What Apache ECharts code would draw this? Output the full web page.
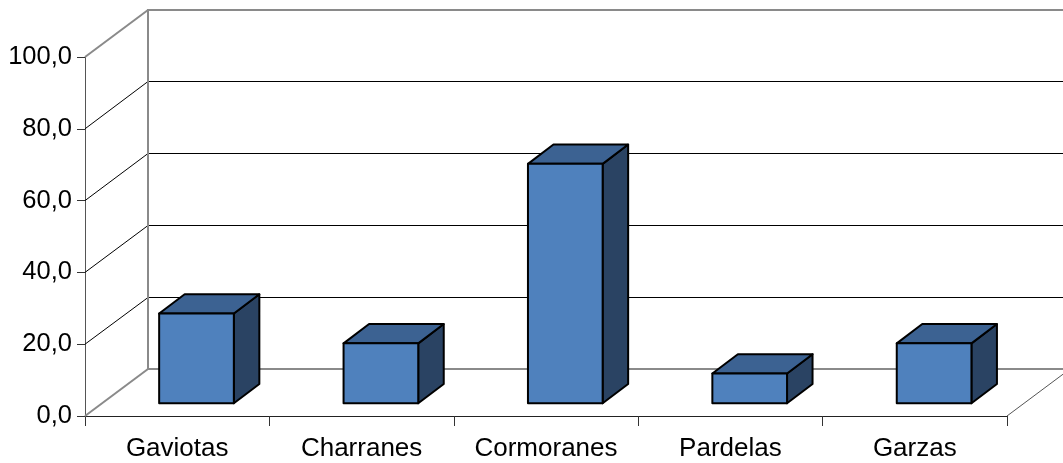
<!DOCTYPE html>
<html>
<head>
<meta charset="utf-8">
<script src="https://cdn.jsdelivr.net/npm/echarts@6/dist/echarts.min.js"></script>
<style>
  html, body { margin: 0; padding: 0; background: #ffffff; }
  #chart { width: 1063px; height: 463px; }
</style>
</head>
<body>
<div id="chart"></div>
<script>
// Bird groups and their percentage values
const categories = ['Gaviotas', 'Charranes', 'Cormoranes', 'Pardelas', 'Garzas'];
const values = [25.0, 16.7, 66.7, 8.3, 16.7];
const yTicks = [0, 20, 40, 60, 80, 100];

// Perspective offsets (pixels) used to fake the 3D box
const DEPTH = [63, -47];         // full depth of the floor / walls
const BAR_FRONT = [19.3, -12.7]; // front face of the bars relative to the category centre
const BAR_DEPTH = [25.5, -19.3]; // depth of each bar
const BAR_WIDTH_RATIO = 0.405;

const FACE = '#4F81BD';
const TOP = '#3C6292';
const SIDE = '#2A4363';

const chart = echarts.init(document.getElementById('chart'), null, { renderer: 'canvas' });

// Snap to the pixel grid so thin lines stay crisp
function snap(v, width) {
  return width % 2 === 1 ? Math.round(v - 0.5) + 0.5 : Math.round(v);
}

function line(x1, y1, x2, y2, color, width) {
  return {
    type: 'line',
    shape: { x1: x1, y1: y1, x2: x2, y2: y2 },
    style: { stroke: color, lineWidth: width }
  };
}

// Walls, floor and gridlines of the 3D frame
function renderFrame(params, api) {
  const cs = params.coordSys;
  const x0 = cs.x, x1 = cs.x + cs.width;
  const children = [];
  yTicks.forEach(function (v) {
    const y = api.coord([0, v])[1];
    const edge = (v === yTicks[0] || v === yTicks[yTicks.length - 1]);
    const color = edge ? '#8a8a8a' : '#000000';
    const w = edge ? 2 : 1;
    const yBack = snap(y + DEPTH[1], w);
    const xBack = snap(x0 + DEPTH[0], 2);
    children.push(line(x0, y, xBack, yBack, color, w));
    children.push(line(xBack, yBack, x1 + DEPTH[0] + 20, yBack, color, w));
  });
  const yb = api.coord([0, yTicks[0]])[1];
  const yt = api.coord([0, yTicks[yTicks.length - 1]])[1];
  const xBack = snap(x0 + DEPTH[0], 2);
  children.push(line(xBack, snap(yb + DEPTH[1], 2), xBack, snap(yt + DEPTH[1], 2) - 1, '#8a8a8a', 2));
  children.push(line(x1, yb, x1 + DEPTH[0], yb + DEPTH[1], '#555555', 1));
  return { type: 'group', children: children };
}

// One 3D bar: front face, top face and right side
function renderBar(params, api) {
  const idx = api.value(0);
  const base = api.coord([idx, 0]);
  const top = api.coord([idx, api.value(1)]);
  const bw = api.size([1, 0])[0] * BAR_WIDTH_RATIO;
  const cx = base[0] + BAR_FRONT[0];
  const L = cx - bw / 2, R = cx + bw / 2;
  const T = top[1] + BAR_FRONT[1], B = base[1] + BAR_FRONT[1];
  const dx = BAR_DEPTH[0], dy = BAR_DEPTH[1];
  const stroke = { stroke: '#000000', lineWidth: 2, lineJoin: 'round' };
  return {
    type: 'group',
    children: [
      { type: 'polygon', shape: { points: [[R, T], [R + dx, T + dy], [R + dx, B + dy], [R, B]] },
        style: Object.assign({ fill: SIDE }, stroke) },
      { type: 'polygon', shape: { points: [[L, T], [R, T], [R + dx, T + dy], [L + dx, T + dy]] },
        style: Object.assign({ fill: TOP }, stroke) },
      { type: 'rect', shape: { x: L, y: T, width: R - L, height: B - T },
        style: Object.assign({ fill: FACE }, stroke) }
    ]
  };
}

const fontFamily = '"Liberation Sans", Arial, sans-serif';

chart.setOption({
  animation: false,
  backgroundColor: '#ffffff',
  grid: { left: 85, right: 56, top: 57, bottom: 47, containLabel: false },
  xAxis: {
    type: 'category',
    data: categories,
    boundaryGap: true,
    axisLine: { show: true, lineStyle: { color: '#222222', width: 1 } },
    axisTick: { show: true, length: 10, lineStyle: { color: '#333333' } },
    axisLabel: { margin: 20, interval: 0, fontFamily: fontFamily, fontSize: 26, color: '#000000' },
    splitLine: { show: false }
  },
  yAxis: {
    type: 'value',
    min: yTicks[0],
    max: yTicks[yTicks.length - 1],
    interval: 20,
    axisLine: { show: true, lineStyle: { color: '#555555', width: 1 } },
    axisTick: { show: true, length: 8, lineStyle: { color: '#333333' } },
    axisLabel: {
      margin: 13,
      fontFamily: fontFamily,
      fontSize: 25.5,
      color: '#000000',
      formatter: function (v) { return v.toFixed(1).replace('.', ','); }
    },
    splitLine: { show: false }
  },
  series: [
    {
      type: 'custom',
      z: 1,
      clip: false,
      silent: true,
      renderItem: renderFrame,
      data: [[0, 0]]
    },
    {
      type: 'custom',
      z: 3,
      clip: false,
      renderItem: renderBar,
      encode: { x: 0, y: 1 },
      data: values.map(function (v, i) { return [i, v]; })
    }
  ]
});
</script>
</body>
</html>
